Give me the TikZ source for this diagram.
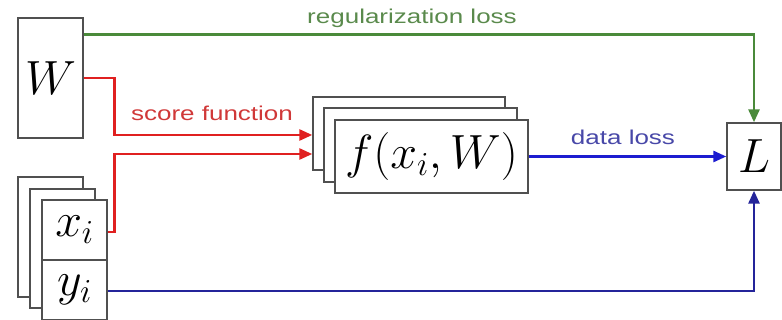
\RequirePackage{fix-cm}
\documentclass[tikz,border=0pt]{standalone}
\usepackage{fontspec}
\usepackage{graphicx}
\setmainfont{Liberation Sans}
\usetikzlibrary{arrows.meta}
\definecolor{gline}{HTML}{4A8A3A}
\definecolor{gtext}{HTML}{5A8A4C}
\definecolor{rline}{HTML}{E02020}
\definecolor{rtext}{HTML}{D03838}
\definecolor{bline}{HTML}{1C1CD0}
\definecolor{btext}{HTML}{4848A8}
\definecolor{bdark}{HTML}{24249A}
\definecolor{boxc}{HTML}{505050}
\newcommand{\mathlbl}[1]{\fontsize{48}{52}\selectfont$#1$}
\newcommand{\txtlbl}[1]{\fontsize{20}{24}\selectfont\scalebox{1.3}[1]{#1}}
\tikzset{
  blk/.style={draw=boxc, line width=1.4pt, fill=white, inner sep=0pt, rectangle},
  conn/.style={line width=2.7pt, -{Triangle[length=13pt,width=11pt]}},
}
\begin{document}
\begin{tikzpicture}[x=1pt,y=-1pt]
\useasboundingbox (0,0) rectangle (782,320);
% W
\node[blk, minimum width=65pt, minimum height=120pt] (W) at (50.5,78) {\mathlbl{W}};
% L
\node[blk, minimum width=54pt, minimum height=67pt] (L) at (754,156.5) {\mathlbl{L}};
% f stack
\node[blk, minimum width=192pt, minimum height=73pt] (fback) at (409,133.5) {};
\node[blk, minimum width=193pt, minimum height=74pt] (fmid) at (420.5,145) {};
\node[blk, minimum width=193pt, minimum height=73pt] (ffront) at (431.5,156.5) {\mathlbl{f(x_i,W)}};
% x stack
\node[blk, minimum width=65pt, minimum height=120pt] (xback) at (50.5,237) {};
\node[blk, minimum width=65pt, minimum height=119pt] (xmid) at (62.5,248.5) {};
\node[blk, minimum width=65pt, minimum height=60pt] (xfront) at (74.5,230) {\mathlbl{x_i}};
\node[blk, minimum width=65pt, minimum height=60pt] (yfront) at (74.5,290) {\mathlbl{y_i}};
% labels
\node[text=gtext] (lreg) at (412,18) {\txtlbl{regularization loss}};
\node[text=rtext] (lscore) at (212,113) {\txtlbl{score function}};
\node[text=btext] (ldata) at (623,137) {\txtlbl{data loss}};
% connectors
\draw[conn, draw=gline] ([yshift=-17pt]W.north east) -| (L.north);
\draw[conn, draw=rline] (W.east) -- ++(31,0) |- ([yshift=-1.5pt]fback.west);
\draw[conn, draw=rline] ([yshift=-2pt]xfront.east) -- ++(7,0) |- ([yshift=-20.5pt]fback.west);
\draw[conn, draw=bline] (ffront.east) -- (L.west);
\draw[conn, draw=bdark] ([yshift=-1pt]yfront.east) -| (L.south);
\end{tikzpicture}
\end{document}
